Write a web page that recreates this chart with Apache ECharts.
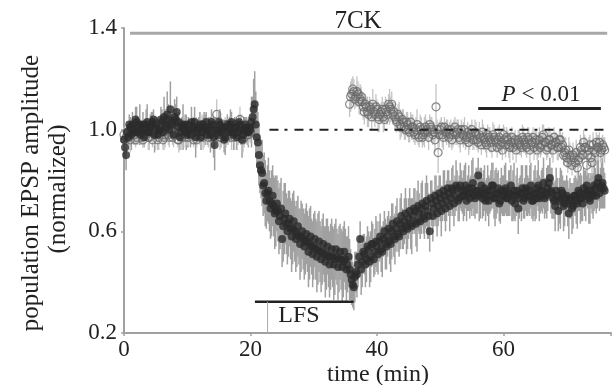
<!DOCTYPE html>
<html>
<head>
<meta charset="utf-8">
<script src="https://cdn.jsdelivr.net/npm/echarts@6/dist/echarts.min.js"></script>
<style>
html,body{margin:0;padding:0;background:#fff;}
#chart{width:614px;height:385px;}
</style>
</head>
<body>
<div id="chart"></div>
<script>
// ---- data ----
const STEP = 1 / 3;             // sampling interval of each array (min)
const OPEN_B_START = 107;       // sample index where open series resumes (~35.7 min)
const xTicks = [0, 20, 40, 60];
const yTicks = [0.2, 0.6, 1.0, 1.4];

// filled circles, samples at i*STEP
const filledVals = [
0.96,0.90,0.97,1.01,1.02,0.99,1.03,1.01,0.98,1.02,
1.00,1.03,0.99,1.02,1.04,1.01,0.98,1.00,1.03,1.05,
1.01,1.04,1.08,1.02,1.05,1.07,1.03,0.99,1.01,1.02,
0.98,1.00,1.03,1.01,0.97,1.00,1.02,0.99,1.01,1.03,
1.00,0.98,1.02,0.94,1.00,1.03,0.99,1.01,0.97,1.02,
1.00,1.03,0.98,1.01,0.99,1.02,0.96,1.00,1.01,0.99,
1.00,1.05,1.10,0.97,0.90,0.84,0.78,0.75,0.75,0.72,
0.71,0.70,0.68,0.68,0.66,0.57,0.65,0.63,0.63,0.61,
0.61,0.60,0.59,0.58,0.58,0.57,0.56,0.56,0.55,0.54,
0.54,0.53,0.53,0.52,0.52,0.51,0.51,0.50,0.50,0.50,
0.49,0.50,0.49,0.49,0.48,0.49,0.47,0.45,0.41,0.38,
0.44,0.47,0.57,0.48,0.51,0.49,0.53,0.50,0.55,0.52,
0.54,0.56,0.53,0.57,0.55,0.58,0.56,0.60,0.58,0.61,
0.59,0.63,0.61,0.64,0.62,0.65,0.63,0.66,0.68,0.64,
0.67,0.69,0.66,0.70,0.68,0.60,0.71,0.69,0.72,0.70,
0.73,0.71,0.74,0.72,0.75,0.73,0.76,0.74,0.77,0.73,
0.76,0.74,0.78,0.75,0.73,0.77,0.74,0.76,0.82,0.75,
0.73,0.77,0.74,0.72,0.76,0.78,0.73,0.75,0.71,0.76,
0.74,0.77,0.73,0.75,0.72,0.76,0.74,0.69,0.75,0.77,
0.73,0.76,0.74,0.78,0.72,0.75,0.77,0.73,0.76,0.79,
0.74,0.77,0.81,0.75,0.72,0.76,0.68,0.73,0.75,0.71,
0.74,0.67,0.72,0.70,0.74,0.71,0.75,0.73,0.77,0.74,
0.76,0.72,0.75,0.78,0.74,0.81,0.77,0.79,0.76
];
const filledErr = [
.04,.06,.03,.04,.05,.03,.06,.04,.03,.05,
.04,.07,.03,.05,.04,.03,.06,.04,.05,.08,
.04,.06,.11,.05,.07,.06,.04,.05,.09,.04,
.05,.03,.06,.04,.08,.04,.05,.03,.06,.04,
.05,.07,.04,.10,.05,.04,.06,.03,.07,.04,
.05,.04,.06,.03,.05,.04,.07,.05,.04,.06,
.05,.08,.13,.12,.12,.11,.12,.13,.11,.12,
.13,.12,.14,.12,.13,.11,.14,.12,.13,.12,
.14,.12,.13,.11,.14,.12,.13,.12,.14,.11,
.13,.12,.14,.12,.13,.11,.14,.12,.13,.12,
.14,.11,.13,.12,.14,.12,.11,.12,.10,.09,
.08,.09,.07,.10,.08,.09,.07,.10,.08,.09,
.10,.08,.09,.07,.10,.08,.09,.11,.08,.09,
.07,.10,.08,.09,.11,.08,.10,.07,.09,.12,
.08,.10,.07,.09,.11,.08,.09,.07,.10,.08,
.09,.07,.10,.08,.09,.07,.10,.08,.07,.09,
.08,.10,.09,.07,.08,.11,.08,.09,.07,.10,
.08,.09,.07,.10,.08,.09,.11,.08,.07,.09,
.08,.10,.07,.09,.08,.11,.08,.10,.07,.09,
.08,.10,.07,.09,.08,.11,.07,.09,.08,.10,
.07,.09,.08,.10,.07,.09,.08,.12,.07,.09,
.08,.10,.07,.09,.08,.10,.07,.09,.08,.10,
.07,.09,.08,.10,.07,.09,.08,.10,.07
];
// filled circles, interleaved samples at (i+0.5)*STEP
const filledVals2 = [
0.93,0.99,1.02,0.98,1.00,1.04,0.99,1.02,1.00,0.97,
1.02,0.99,1.01,1.03,0.98,1.02,1.00,1.04,0.99,1.02,
1.06,1.00,1.03,0.98,1.04,1.01,0.97,1.02,1.00,0.99,
1.02,0.98,1.00,1.03,0.99,1.01,0.97,1.02,1.00,0.98,
1.01,1.03,0.97,1.00,0.98,1.02,1.00,0.96,1.01,0.99,
1.02,0.99,1.01,0.97,1.03,1.00,0.98,1.02,0.99,1.01,
1.03,1.08,1.02,0.95,0.86,0.83,0.79,0.72,0.76,0.69,
0.74,0.67,0.71,0.64,0.69,0.62,0.67,0.60,0.65,0.58,
0.64,0.57,0.62,0.55,0.60,0.54,0.59,0.52,0.58,0.51,
0.57,0.50,0.56,0.49,0.55,0.48,0.54,0.47,0.53,0.47,
0.53,0.46,0.52,0.46,0.52,0.45,0.50,0.43,0.39,0.42,
0.43,0.50,0.45,0.52,0.47,0.54,0.48,0.55,0.49,0.56,
0.51,0.58,0.52,0.60,0.54,0.61,0.55,0.63,0.57,0.64,
0.58,0.66,0.60,0.67,0.61,0.68,0.62,0.69,0.63,0.70,
0.64,0.71,0.65,0.72,0.66,0.73,0.66,0.74,0.67,0.75,
0.68,0.76,0.69,0.77,0.70,0.77,0.71,0.78,0.72,0.78,
0.74,0.76,0.72,0.77,0.75,0.79,0.73,0.76,0.74,0.78,
0.75,0.72,0.76,0.74,0.78,0.73,0.75,0.77,0.72,0.74,
0.76,0.73,0.75,0.78,0.74,0.71,0.76,0.73,0.75,0.72,
0.77,0.74,0.76,0.72,0.75,0.73,0.78,0.74,0.76,0.73,
0.75,0.79,0.76,0.73,0.70,0.74,0.72,0.76,0.70,0.73,
0.71,0.73,0.69,0.74,0.72,0.76,0.73,0.71,0.75,0.78,
0.73,0.76,0.74,0.77,0.79,0.75,0.78,0.77
];
const filledErr2 = [
.05,.03,.04,.06,.03,.05,.04,.08,.03,.04,
.06,.03,.05,.04,.07,.03,.04,.05,.03,.06,
.09,.04,.05,.03,.06,.04,.05,.03,.04,.07,
.03,.05,.04,.06,.03,.04,.05,.03,.06,.04,
.03,.05,.08,.04,.03,.06,.04,.05,.03,.04,
.06,.03,.04,.05,.03,.06,.04,.03,.05,.04,
.10,.12,.13,.12,.11,.13,.12,.11,.13,.12,
.12,.14,.11,.13,.12,.14,.12,.13,.11,.14,
.12,.13,.12,.14,.11,.13,.12,.14,.12,.13,
.11,.14,.12,.13,.12,.14,.11,.13,.12,.14,
.12,.13,.11,.14,.12,.13,.12,.10,.09,.10,
.09,.08,.10,.07,.09,.08,.10,.09,.07,.10,
.08,.09,.10,.08,.09,.07,.11,.08,.10,.09,
.08,.09,.07,.10,.08,.09,.11,.08,.09,.10,
.07,.09,.08,.10,.09,.07,.10,.08,.09,.07,
.10,.08,.09,.07,.10,.08,.09,.10,.08,.09,
.07,.10,.08,.09,.07,.10,.08,.09,.10,.07,
.09,.08,.10,.07,.09,.08,.10,.07,.09,.08,
.10,.07,.09,.08,.10,.07,.09,.08,.11,.07,
.09,.08,.10,.07,.09,.08,.10,.07,.09,.08,
.10,.07,.09,.08,.10,.07,.09,.08,.10,.07,
.09,.08,.10,.07,.09,.08,.10,.07,.09,.08,
.10,.07,.09,.08,.10,.07,.09,.08
];

// open circles, baseline part (0-20 min), at i*STEP and (i+0.5)*STEP
const openValsA = [
0.98,0.97,0.99,0.96,1.00,0.98,0.97,1.01,0.99,0.96,
0.98,1.00,0.97,0.99,1.02,0.98,0.96,0.99,1.01,0.97,
1.00,0.98,1.03,0.97,0.99,1.01,0.96,0.98,1.00,0.97,
0.99,1.01,0.98,0.96,1.00,0.99,0.97,1.02,0.98,1.00,
0.97,0.99,1.01,1.00,1.06,0.98,0.97,0.99,1.02,0.98,
1.00,0.97,0.99,1.02,0.98,1.04,0.99,0.97,1.00,0.98,
0.99
];
const openErrA = [
.03,.04,.03,.05,.03,.04,.03,.04,.05,.03,
.04,.03,.05,.04,.03,.06,.04,.03,.04,.05,
.03,.04,.05,.03,.04,.03,.05,.04,.03,.04,
.05,.03,.04,.03,.05,.04,.03,.04,.05,.03,
.04,.03,.05,.04,.06,.03,.04,.05,.03,.04,
.03,.05,.04,.03,.04,.05,.03,.04,.03,.04,
.04
];
const openValsA2 = [
0.96,0.99,0.97,1.00,0.98,0.96,0.99,1.01,0.97,0.98,
1.00,0.97,0.99,0.96,0.98,1.00,0.97,0.99,0.96,0.98,
1.01,0.97,0.99,0.98,1.00,0.96,0.99,0.97,1.01,0.98,
0.97,0.99,1.00,0.98,0.96,0.99,1.01,0.97,0.99,0.98,
1.00,0.97,0.98,1.01,0.99,0.97,0.99,1.00,0.97,0.99,
0.98,1.00,0.97,0.99,1.01,0.98,0.96,0.99,0.98,1.00
];
const openErrA2 = [
.04,.03,.05,.03,.04,.03,.05,.04,.03,.04,
.03,.05,.04,.03,.04,.03,.05,.03,.04,.05,
.03,.04,.03,.05,.04,.03,.04,.05,.03,.04,
.04,.03,.05,.04,.03,.04,.03,.05,.04,.03,
.05,.04,.03,.04,.03,.05,.04,.03,.04,.05,
.03,.04,.05,.03,.04,.03,.05,.04,.03,.04
];
// open circles, after LFS (35.7-76 min)
const openValsB = [
1.10,1.14,1.15,1.13,1.14,1.12,1.11,1.07,1.09,1.06,
1.08,1.10,1.06,1.08,1.04,1.07,1.05,1.08,1.06,1.09,
1.10,1.07,1.04,1.06,1.02,1.04,1.01,1.03,1.00,1.03,
1.01,0.98,1.02,0.97,1.00,0.98,1.01,0.99,1.02,1.00,
0.99,1.09,0.91,1.00,0.98,1.01,0.99,0.97,1.00,0.98,
1.01,0.99,0.97,1.00,0.98,0.96,0.99,0.97,1.00,0.96,
0.98,0.95,0.97,0.99,0.96,0.94,0.97,0.95,0.98,0.96,
0.93,0.97,0.95,0.98,0.94,0.96,0.93,0.97,0.95,0.92,
0.96,0.94,0.97,0.95,0.93,0.96,0.94,0.97,0.95,0.92,
0.96,0.94,0.98,0.95,0.93,0.96,0.94,0.97,0.95,0.93,
0.96,0.94,0.91,0.89,0.92,0.88,0.90,0.87,0.85,0.89,
0.92,0.95,0.93,0.90,0.94,0.87,0.92,0.95,0.93,0.91,
0.94,0.92
];
const openErrB = [
.05,.06,.05,.04,.05,.06,.04,.05,.04,.05,
.04,.06,.05,.04,.05,.04,.06,.05,.04,.07,
.05,.04,.05,.04,.06,.04,.05,.04,.05,.04,
.05,.04,.06,.04,.05,.04,.05,.04,.04,.05,
.04,.09,.08,.04,.05,.04,.05,.04,.04,.05,
.04,.05,.04,.04,.05,.04,.04,.05,.04,.04,
.05,.04,.04,.05,.04,.05,.04,.04,.05,.04,
.04,.05,.04,.04,.05,.04,.06,.04,.04,.05,
.04,.04,.05,.04,.04,.05,.04,.04,.05,.04,
.05,.04,.04,.05,.04,.04,.05,.04,.04,.05,
.04,.05,.04,.04,.05,.04,.05,.04,.05,.04,
.04,.05,.04,.05,.04,.05,.04,.04,.05,.04,
.04,.05
];
const openValsB2 = [
1.13,1.16,1.12,1.15,1.11,1.13,1.09,1.10,1.07,1.09,
1.05,1.07,1.09,1.05,1.06,1.08,1.04,1.07,1.10,1.08,
1.06,1.05,1.03,1.05,1.01,1.03,1.00,1.02,0.99,1.01,
0.99,1.00,0.98,1.01,0.97,0.99,1.00,0.97,1.01,0.98,
0.96,1.00,0.98,1.01,0.97,0.99,1.00,0.98,0.96,0.99,
0.98,1.00,0.96,0.98,1.00,0.97,0.95,0.98,0.96,0.99,
0.96,0.98,0.94,0.97,0.95,0.98,0.96,0.93,0.97,0.95,
0.96,0.94,0.92,0.96,0.97,0.94,0.95,0.93,0.96,0.94,
0.95,0.93,0.96,0.94,0.97,0.92,0.95,0.93,0.96,0.94,
0.93,0.97,0.95,0.92,0.96,0.94,0.92,0.95,0.93,0.96,
0.93,0.90,0.92,0.87,0.90,0.86,0.89,0.91,0.88,0.93,
0.90,0.93,0.86,0.92,0.89,0.94,0.91,0.93,0.95,0.92,
0.93
];
const openErrB2 = [
.06,.05,.04,.06,.05,.04,.05,.04,.06,.04,
.05,.04,.05,.06,.04,.05,.04,.05,.04,.05,
.04,.05,.04,.06,.04,.05,.04,.05,.04,.05,
.04,.05,.04,.05,.04,.06,.04,.05,.04,.04,
.05,.04,.05,.04,.05,.04,.04,.05,.04,.05,
.04,.04,.05,.04,.05,.04,.05,.04,.04,.05,
.04,.05,.04,.05,.04,.04,.05,.04,.05,.04,
.05,.04,.04,.05,.04,.05,.04,.05,.04,.04,
.05,.04,.05,.04,.04,.05,.04,.05,.04,.05,
.04,.05,.04,.04,.05,.04,.05,.04,.05,.04,
.05,.04,.05,.04,.05,.04,.04,.05,.04,.05,
.04,.05,.04,.05,.04,.05,.04,.05,.04,.05,
.04
];

// annotations (data units)
const drugBar = { label: '7CK', from: 0.95, to: 76.4, y: 1.379 };
const baseline = { from: 23.0, to: 76.2, y: 1.0 };
const sigBar = { from: 56.0, to: 75.4, y: 1.083 };
const lfsBar = { label: 'LFS', from: 20.7, to: 36.3, y: 0.323, tick: 22.7 };

// ---- build ----
function pts(vals, start, off) { return vals.map((v, i) => [(start + i + off) * STEP, v]); }
function errs(vals, err, start, off) { return vals.map((v, i) => [(start + i + off) * STEP, v - err[i], v + err[i]]); }

const filledPts = pts(filledVals, 0, 0).concat(pts(filledVals2, 0, 0.5));
const openPts = pts(openValsA, 0, 0).concat(pts(openValsA2, 0, 0.5),
  pts(openValsB, OPEN_B_START, 0), pts(openValsB2, OPEN_B_START, 0.5));
const filledErrData = errs(filledVals, filledErr, 0, 0).concat(errs(filledVals2, filledErr2, 0, 0.5));
const openErrData = errs(openValsA, openErrA, 0, 0).concat(errs(openValsA2, openErrA2, 0, 0.5),
  errs(openValsB, openErrB, OPEN_B_START, 0), errs(openValsB2, openErrB2, OPEN_B_START, 0.5));

function errRender(color, w) {
  return function (params, api) {
    const x = api.value(0);
    const p1 = api.coord([x, api.value(1)]);
    const p2 = api.coord([x, api.value(2)]);
    return { type: 'line', shape: { x1: p1[0], y1: p1[1], x2: p2[0], y2: p2[1] },
      style: { stroke: color, lineWidth: w } };
  };
}
function seg(a, b, y) { return [[a, y], [b, y]]; }

const FONT = "'Liberation Serif','DejaVu Serif',serif";
const FS = 24;

const chart = echarts.init(document.getElementById('chart'), null, { renderer: 'canvas' });
chart.setOption({
  animation: false,
  backgroundColor: '#ffffff',
  grid: { left: 124, right: 1, top: 28, bottom: 52 },
  xAxis: {
    type: 'value', min: 0, max: 77, interval: 20,
    axisLine: { show: true, lineStyle: { color: '#a0a0a0', width: 2 } },
    axisTick: { show: true, length: 3, lineStyle: { color: '#a0a0a0', width: 1.5 } },
    axisLabel: { margin: 5, color: '#222', fontFamily: FONT, fontSize: 23,
      formatter: v => xTicks.includes(v) ? String(v) : '' },
    splitLine: { show: false }
  },
  yAxis: {
    type: 'value', min: 0.2, max: 1.4, interval: 0.4,
    axisLine: { show: true, lineStyle: { color: '#a0a0a0', width: 2 } },
    axisTick: { show: true, length: 3, lineStyle: { color: '#a0a0a0', width: 1.5 } },
    axisLabel: { margin: 7, color: '#222', fontFamily: FONT, fontSize: 23,
      formatter: v => { const t = yTicks.find(k => Math.abs(k - v) < 1e-6); return t === undefined ? '' : t.toFixed(1); } },
    splitLine: { show: false }
  },
  graphic: [
    { type: 'text', x: 358, y: 21, style: { text: drugBar.label, fill: '#222', font: '25px ' + FONT, align: 'center', verticalAlign: 'middle' } },
    { type: 'text', x: 299, y: 316, style: { text: lfsBar.label, fill: '#222', font: FS + 'px ' + FONT, align: 'center', verticalAlign: 'middle' } },
    { type: 'text', x: 541, y: 95, style: {
        text: '{i|P} < 0.01', fill: '#222', font: '23px ' + FONT, align: 'center', verticalAlign: 'middle',
        rich: { i: { fontStyle: 'italic', fontFamily: FONT, fontSize: 23, fill: '#222' } } } },
    { type: 'text', x: 378, y: 375, style: { text: 'time (min)', fill: '#222', font: FS + 'px ' + FONT, align: 'center', verticalAlign: 'middle' } },
    { type: 'text', x: 31, y: 193, rotation: Math.PI / 2, style: { text: 'population EPSP amplitude', fill: '#222', font: '25px ' + FONT, align: 'center', verticalAlign: 'middle' } },
    { type: 'text', x: 58, y: 189, rotation: Math.PI / 2, style: { text: '(normalized)', fill: '#222', font: '25px ' + FONT, align: 'center', verticalAlign: 'middle' } }
  ],
  series: [
    { type: 'custom', renderItem: errRender('#a0a0a0', 1.5), data: filledErrData, encode: { x: 0, y: [1, 2] }, silent: true, z: 1 },
    { type: 'custom', renderItem: errRender('#c4c4c4', 1.3), data: openErrData, encode: { x: 0, y: [1, 2] }, silent: true, z: 2 },
    { type: 'scatter', data: openPts, symbol: 'circle', symbolSize: 8, silent: true, z: 3,
      itemStyle: { color: 'rgba(255,255,255,0)', borderColor: '#6a6a6a', borderWidth: 1.2 } },
    { type: 'scatter', data: filledPts, symbol: 'circle', symbolSize: 8, silent: true, z: 4,
      itemStyle: { color: '#2a2a2a' } },
    { type: 'line', data: seg(drugBar.from, drugBar.to, drugBar.y), symbol: 'none', silent: true, z: 5,
      lineStyle: { color: '#a8a8a8', width: 3 } },
    { type: 'line', data: seg(baseline.from, baseline.to, baseline.y), symbol: 'none', silent: true, z: 5,
      lineStyle: { color: '#222', width: 2, type: [9, 6, 3, 7] } },
    { type: 'line', data: seg(sigBar.from, sigBar.to, sigBar.y), symbol: 'none', silent: true, z: 5,
      lineStyle: { color: '#222', width: 3 } },
    { type: 'line', data: seg(lfsBar.from, lfsBar.to, lfsBar.y), symbol: 'none', silent: true, z: 5,
      lineStyle: { color: '#222', width: 2.5 } },
    { type: 'line', data: [[lfsBar.tick, 0.2], [lfsBar.tick, lfsBar.y]], symbol: 'none', silent: true, z: 5,
      lineStyle: { color: '#aaaaaa', width: 1 } }
  ]
});
</script>
</body>
</html>
